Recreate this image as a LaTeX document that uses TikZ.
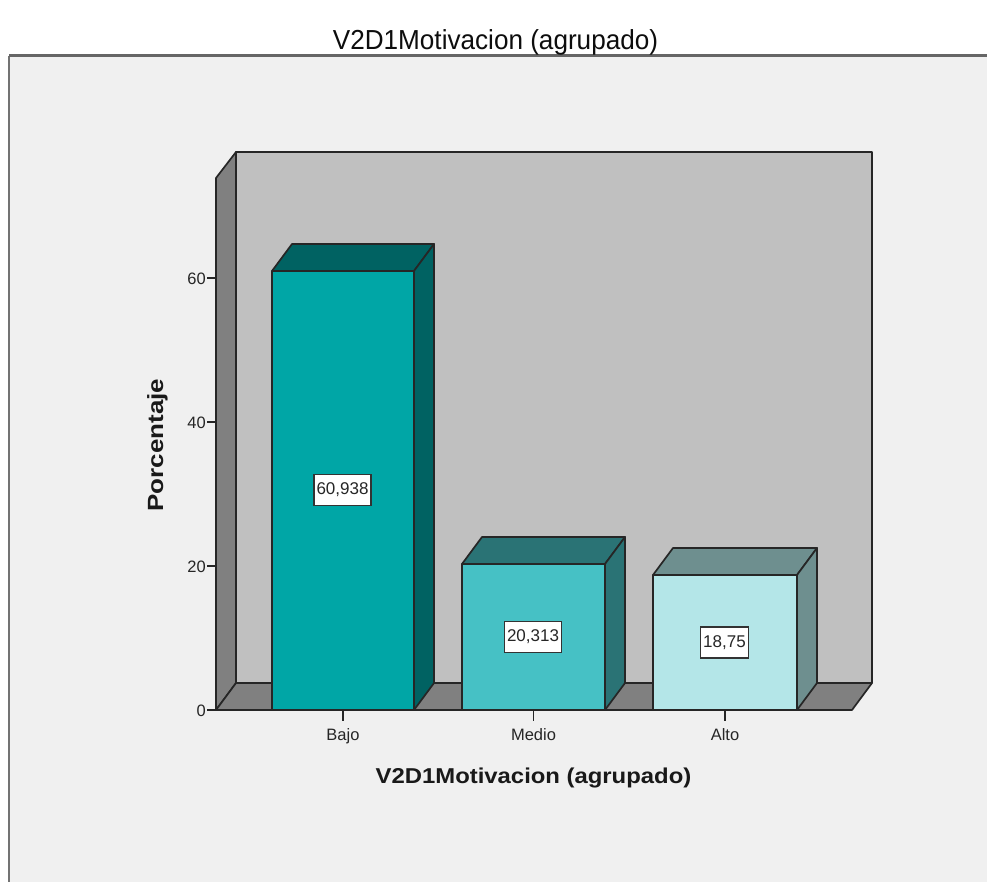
\documentclass[tikz,border=0pt]{standalone}
\usepackage{fontspec}
\setmainfont{Liberation Sans}
\newfontfamily\titlefont[FakeStretch=0.95]{Liberation Sans}
\newfontfamily\axisfont[FakeStretch=1.11]{Liberation Sans Bold}
\newfontfamily\yaxisfont[FakeStretch=1.18]{Liberation Sans Bold}
\definecolor{bgc}{RGB}{240,240,240}
\definecolor{wallc}{RGB}{192,192,192}
\definecolor{sidec}{RGB}{128,128,128}
\definecolor{bajoF}{RGB}{0,166,166}
\definecolor{bajoD}{RGB}{0,98,98}
\definecolor{medioF}{RGB}{70,193,197}
\definecolor{medioD}{RGB}{42,115,117}
\definecolor{altoF}{RGB}{180,230,232}
\definecolor{altoD}{RGB}{110,143,143}
\newcommand\cuboid[5]{%
  \filldraw[edge, fill=#4] (#1,710) rectangle (#2,#3);
  \filldraw[edge, fill=#5] (#1,#3) -- ++(20,-27) -- (#2+20,#3-27) -- (#2,#3) -- cycle;
  \filldraw[edge, fill=#5] (#2,#3) -- (#2+20,#3-27) -- (#2+20,683) -- (#2,710) -- cycle;
}
\begin{document}
\begin{tikzpicture}[x=1pt,y=-1pt,
  edge/.style={draw=black!85, line width=1.7pt, line join=round},
  ticklbl/.style={font=\fontsize{16.5}{19}\selectfont, text=black!85, inner sep=0pt},
  vallbl/.style={draw=black!80, line width=1.1pt, fill=white, font=\fontsize{17}{19}\selectfont, inner xsep=2.5pt, inner ysep=0pt, minimum height=31pt, text=black!85}]
\fill[white] (0,0) rectangle (987,882);
\useasboundingbox (0,0) rectangle (987,882);
\fill[bgc] (9,56) rectangle (987,882);
\draw[black!55, line width=1.2pt] (9,882) -- (9,56);
\draw[black!60, line width=3pt] (9,56) -- (987,56);
% title
\node[anchor=base, inner sep=0pt, font=\titlefont\fontsize{27.5}{30}\selectfont, text=black!95] (title) at (495.5,50) {V2D1Motivacion (agrupado)};
% walls
\filldraw[edge, fill=wallc] (236,152) -- (872,152) -- (872,683) -- (236,683) -- cycle;
\filldraw[edge, fill=sidec] (216,178) -- (236,152) -- (236,683) -- (216,710) -- cycle;
\filldraw[edge, fill=sidec] (216,710) -- (236,683) -- (872,683) -- (852,710) -- cycle;
% ticks
\foreach \v/\yy in {0/710,20/566,40/422,60/278}{
  \draw[edge, line width=1.5pt] (207,\yy) -- (216,\yy);
  \node[ticklbl, anchor=east] (yt\v) at (206,\yy+1) {\v};
}
% bars
\cuboid{272}{414}{271}{bajoF}{bajoD}
\cuboid{462}{605}{564}{medioF}{medioD}
\cuboid{653}{797}{575}{altoF}{altoD}
% axis lines
\draw[edge, line width=2pt] (216,178) -- (216,710) -- (852,710);
\foreach \n/\xx in {Bajo/343,Medio/533.5,Alto/725}{
  \draw[edge, line width=1.5pt] (\xx,710) -- (\xx,721);
  \node[ticklbl, anchor=base] (xt\n) at (\xx,740) {\n};
}
% value labels
\node[vallbl] (v1) at (342.5,490) {60,938};
\node[vallbl] (v2) at (533,637) {20,313};
\node[vallbl] (v3) at (724.5,642.5) {18,75};
% axis titles
\node[anchor=base, inner sep=0pt, font=\axisfont\fontsize{21.5}{25}\selectfont, text=black!90] (xtitle) at (533.5,783) {V2D1Motivacion (agrupado)};
\node[anchor=base, rotate=90, inner sep=0pt, font=\yaxisfont\fontsize{22}{25}\selectfont, text=black!90] (ytitle) at (163,445) {Porcentaje};
\end{tikzpicture}
\end{document}
